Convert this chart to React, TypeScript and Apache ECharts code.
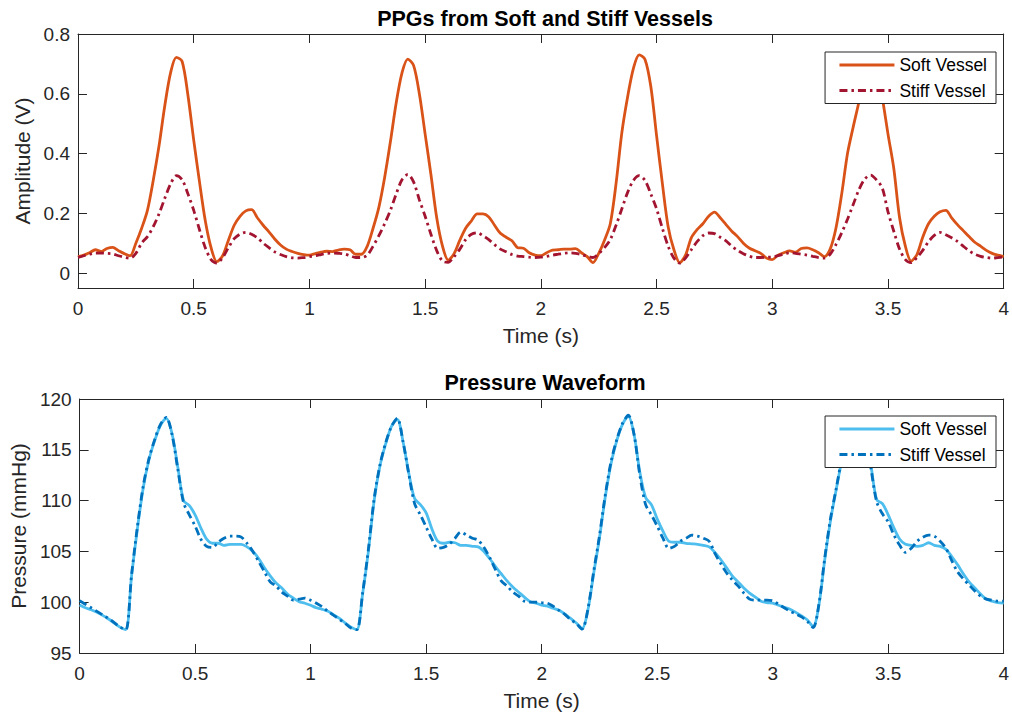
import React, { useEffect, useRef } from 'react';
import * as echarts from 'echarts';

// Sample spacing of the recorded waveforms (seconds)
const TIME_STEP = 0.025;

const xTickValues = [0, 0.5, 1, 1.5, 2, 2.5, 3, 3.5, 4];
const ppgTickValues = [0, 0.2, 0.4, 0.6, 0.8];
const pressureTickValues = [95, 100, 105, 110, 115, 120];
const legendLabels = ['Soft Vessel', 'Stiff Vessel'];

// PPG amplitude (V), soft vessel
const ppgSoft = [
  0.055, 0.060, 0.068, 0.078, 0.072, 0.082, 0.086, 0.075, 0.065, 0.058,
  0.100, 0.150, 0.210, 0.310, 0.425, 0.560, 0.670, 0.722, 0.708, 0.595,
  0.445, 0.305, 0.175, 0.085, 0.038, 0.058, 0.110, 0.160, 0.190, 0.208,
  0.212, 0.185, 0.160, 0.138, 0.114, 0.094, 0.080, 0.072, 0.066, 0.062,
  0.060, 0.065, 0.070, 0.073, 0.072, 0.077, 0.080, 0.078, 0.063, 0.063,
  0.090, 0.150, 0.220, 0.320, 0.440, 0.570, 0.670, 0.716, 0.695, 0.600,
  0.465, 0.330, 0.185, 0.090, 0.043, 0.065, 0.110, 0.150, 0.175, 0.198,
  0.198, 0.188, 0.160, 0.133, 0.120, 0.108, 0.085, 0.083, 0.068, 0.060,
  0.058, 0.068, 0.077, 0.078, 0.080, 0.080, 0.082, 0.068, 0.055, 0.035,
  0.066, 0.110, 0.165, 0.300, 0.470, 0.590, 0.685, 0.730, 0.715, 0.625,
  0.460, 0.300, 0.155, 0.078, 0.035, 0.060, 0.118, 0.145, 0.165, 0.190,
  0.204, 0.185, 0.162, 0.140, 0.122, 0.100, 0.084, 0.075, 0.066, 0.050,
  0.045, 0.060, 0.068, 0.074, 0.070, 0.082, 0.084, 0.078, 0.068, 0.055,
  0.080, 0.150, 0.265, 0.400, 0.490, 0.575, 0.670, 0.720, 0.700, 0.590,
  0.465, 0.350, 0.185, 0.090, 0.040, 0.062, 0.120, 0.165, 0.190, 0.205,
  0.210, 0.185, 0.162, 0.142, 0.122, 0.103, 0.090, 0.076, 0.066, 0.060, 0.055,
];

// PPG amplitude (V), stiff vessel
const ppgStiff = [
  0.052, 0.058, 0.063, 0.067, 0.067, 0.066, 0.064, 0.058, 0.053, 0.050,
  0.066, 0.100, 0.122, 0.155, 0.198, 0.250, 0.298, 0.326, 0.312, 0.265,
  0.210, 0.145, 0.085, 0.045, 0.033, 0.052, 0.085, 0.115, 0.130, 0.136,
  0.130, 0.118, 0.100, 0.085, 0.071, 0.062, 0.055, 0.051, 0.050, 0.052,
  0.055, 0.058, 0.062, 0.066, 0.067, 0.066, 0.064, 0.058, 0.052, 0.052,
  0.060, 0.090, 0.125, 0.165, 0.210, 0.265, 0.312, 0.330, 0.305, 0.245,
  0.190, 0.130, 0.075, 0.040, 0.036, 0.055, 0.080, 0.112, 0.130, 0.135,
  0.125, 0.112, 0.095, 0.080, 0.071, 0.062, 0.057, 0.055, 0.053, 0.052,
  0.053, 0.056, 0.060, 0.063, 0.066, 0.068, 0.066, 0.062, 0.056, 0.052,
  0.065, 0.085, 0.112, 0.160, 0.215, 0.270, 0.310, 0.326, 0.310, 0.265,
  0.215, 0.150, 0.090, 0.050, 0.033, 0.050, 0.078, 0.105, 0.125, 0.134,
  0.132, 0.120, 0.108, 0.090, 0.076, 0.065, 0.057, 0.052, 0.052, 0.053,
  0.054, 0.058, 0.064, 0.068, 0.066, 0.063, 0.060, 0.056, 0.052, 0.050,
  0.063, 0.095, 0.135, 0.180, 0.230, 0.280, 0.315, 0.328, 0.312, 0.285,
  0.205, 0.140, 0.080, 0.045, 0.035, 0.052, 0.076, 0.105, 0.126, 0.136,
  0.128, 0.118, 0.106, 0.090, 0.075, 0.063, 0.056, 0.052, 0.050, 0.052, 0.054,
];

// Pressure (mmHg), soft vessel
const pressureSoft = [
  99.72, 99.45, 99.25, 99.0, 98.7, 98.35, 97.95, 97.55, 97.3, 102.6,
  107.2, 111.2, 114.0, 115.9, 117.4, 118.1, 116.6, 113.3, 110.0, 109.5,
  108.6, 107.3, 106.2, 105.8, 105.8, 105.6, 105.7, 105.7, 105.7, 105.45,
  105.0, 104.3, 103.4, 102.6, 101.9, 101.4, 100.8, 100.4, 100.05, 99.9,
  99.7, 99.45, 99.3, 99.1, 98.75, 98.4, 97.95, 97.55, 97.3, 100.8,
  105.0, 110.0, 113.4, 115.6, 117.3, 118.0, 115.8, 112.7, 110.2, 109.6,
  108.8, 107.2, 106.0, 105.8, 105.9, 105.85, 105.6, 105.6, 105.5, 105.45,
  105.0, 104.3, 103.5, 102.8, 102.1, 101.5, 101.0, 100.5, 100.05, 99.9,
  99.72, 99.6, 99.4, 99.2, 98.85, 98.4, 97.95, 97.4, 99.2, 102.8,
  106.3, 110.3, 113.6, 115.9, 117.5, 118.3, 116.5, 112.8, 110.3, 109.6,
  108.2, 107.0, 106.0, 105.9, 105.9, 105.8, 105.75, 105.7, 105.6, 105.45,
  104.9, 104.2, 103.4, 102.6, 102.0, 101.4, 100.9, 100.5, 100.1, 99.95,
  99.9, 99.7, 99.5, 99.3, 99.0, 98.65, 98.25, 97.6, 99.7, 104.1,
  108.0, 111.1, 114.0, 116.0, 117.5, 118.1, 116.5, 113.5, 110.1, 109.7,
  108.6, 107.3, 106.2, 105.7, 105.6, 105.5, 105.6, 105.85, 105.6, 105.5,
  105.2, 104.5, 103.7, 102.8, 102.0, 101.4, 100.8, 100.3, 100.1, 99.95, 99.9,
];

// Pressure (mmHg), stiff vessel
const pressureStiff = [
  100.15, 99.8, 99.45, 99.1, 98.75, 98.4, 98.0, 97.55, 97.3, 102.7,
  107.4, 111.4, 114.1, 116.0, 117.5, 118.2, 116.5, 113.1, 109.8, 108.6,
  107.5, 106.2, 105.5, 105.4, 105.9, 106.3, 106.5, 106.5, 106.4, 105.8,
  105.0, 104.0, 103.0, 102.0, 101.6, 101.0, 100.6, 100.2, 100.3, 100.4,
  100.2, 99.9, 99.55, 99.1, 98.7, 98.3, 97.9, 97.45, 97.3, 100.9,
  105.2, 110.2, 113.5, 115.7, 117.3, 118.1, 115.8, 112.6, 109.7, 108.6,
  107.4, 106.2, 105.3, 105.4, 105.7, 106.3, 106.9, 106.6, 106.3, 106.1,
  105.4, 104.4, 103.2, 102.1, 101.6, 101.0, 100.6, 100.1, 100.0, 100.0,
  99.95, 99.9, 99.6, 99.2, 98.8, 98.3, 97.9, 97.35, 99.3, 103.0,
  106.5, 110.5, 113.8, 116.0, 117.6, 118.4, 116.5, 112.5, 109.6, 108.6,
  107.5, 106.3, 105.3, 105.5, 106.0, 106.3, 106.6, 106.5, 106.3, 106.0,
  104.8, 103.8, 102.9, 102.2, 101.6, 100.9, 100.3, 100.2, 100.2, 100.2,
  100.15, 99.8, 99.45, 99.1, 98.85, 98.55, 98.1, 97.5, 99.8, 104.3,
  108.2, 111.2, 114.2, 116.2, 117.6, 118.2, 116.5, 113.2, 109.9, 108.7,
  107.9, 106.6, 105.6, 104.9, 105.3, 106.0, 106.4, 106.6, 106.5, 106.0,
  105.3, 104.1, 103.0, 102.3, 101.7, 101.1, 100.6, 100.3, 100.2, 100.1, 100.1,
];

const FONT = '"Liberation Sans", Arial, Helvetica, sans-serif';
const AXIS_COLOR = '#262626';
const DASH_DOT = [8, 4, 2.5, 4];
const LINE_WIDTH = 2.8;
const PRESSURE_SUFFIX = ' (pressure)';

function toPairs(values: number[]) {
  return values.map((v, i) => [Number((i * TIME_STEP).toFixed(3)), v]);
}

function makeXAxes(gridIndex: number) {
  const base: any = {
    type: 'value',
    gridIndex,
    min: 0,
    max: 4,
    interval: 0.5,
    splitLine: { show: false },
    axisLine: { show: true, onZero: false, lineStyle: { color: AXIS_COLOR, width: 1 } },
    axisTick: { show: true, inside: true, length: 9, lineStyle: { color: AXIS_COLOR, width: 1 } },
  };
  return [
    {
      ...base,
      position: 'bottom',
      axisLabel: {
        show: true,
        margin: 11,
        fontSize: 19,
        fontFamily: FONT,
        color: AXIS_COLOR,
        customValues: xTickValues,
        formatter: (v: number) => String(v),
      },
      name: 'Time (s)',
      nameLocation: 'middle',
      nameGap: 37,
      nameTextStyle: { fontSize: 21, fontFamily: FONT, color: AXIS_COLOR },
    },
    { ...base, position: 'top', axisLabel: { show: false } },
  ];
}

function makeYAxes(gridIndex: number, min: number, max: number, ticks: number[], name: string, nameGap: number) {
  const base: any = {
    type: 'value',
    gridIndex,
    min,
    max,
    splitLine: { show: false },
    axisLine: { show: true, onZero: false, lineStyle: { color: AXIS_COLOR, width: 1 } },
    axisTick: { show: true, inside: true, length: 9, customValues: ticks, lineStyle: { color: AXIS_COLOR, width: 1 } },
  };
  return [
    {
      ...base,
      position: 'left',
      axisLabel: {
        show: true,
        margin: 8,
        fontSize: 19,
        fontFamily: FONT,
        color: AXIS_COLOR,
        customValues: ticks,
        formatter: (v: number) => (ticks.some((t) => Math.abs(t - v) < 1e-9) ? String(Number(v.toFixed(2))) : ''),
      },
      name,
      nameLocation: 'middle',
      nameGap,
      nameRotate: 90,
      nameTextStyle: { fontSize: 21, fontFamily: FONT, color: AXIS_COLOR },
    },
    { ...base, position: 'right', axisLabel: { show: false } },
  ];
}

function lineSeries(name: string, data: number[], axisIndex: number, color: string, dashed: boolean, z: number) {
  return {
    name,
    type: 'line',
    xAxisIndex: axisIndex,
    yAxisIndex: axisIndex,
    data: toPairs(data),
    showSymbol: false,
    symbol: 'none',
    smooth: 0.3,
    z,
    itemStyle: { color },
    lineStyle: { color, width: LINE_WIDTH, type: dashed ? DASH_DOT : 'solid' },
  };
}

const legendBase: any = {
  orient: 'vertical',
  right: 16,
  itemWidth: 55,
  itemHeight: 14,
  itemGap: 7.5,
  padding: [4, 9, 4, 13],
  borderColor: AXIS_COLOR,
  borderWidth: 1,
  backgroundColor: '#ffffff',
  selectedMode: false,
  itemStyle: { opacity: 0, borderWidth: 0 },
  lineStyle: { width: LINE_WIDTH },
  textStyle: { fontSize: 17.5, fontFamily: FONT, color: '#000000' },
};

export default function App() {
  const ref = useRef<HTMLDivElement>(null);

  useEffect(() => {
    if (!ref.current) return;
    const chart = echarts.init(ref.current, undefined, { renderer: 'svg' });
    const option: any = {
      animation: false,
      backgroundColor: '#ffffff',
      title: [
        {
          text: 'PPGs from Soft and Stiff Vessels',
          left: 545,
          top: 8,
          padding: 0,
          textAlign: 'center',
          textStyle: { fontSize: 21.5, fontWeight: 'bold', fontFamily: FONT, color: '#000000' },
        },
        {
          text: 'Pressure Waveform',
          left: 545,
          top: 372,
          padding: 0,
          textAlign: 'center',
          textStyle: { fontSize: 21.5, fontWeight: 'bold', fontFamily: FONT, color: '#000000' },
        },
      ],
      grid: [
        { left: 78, right: 1, top: 34, height: 254, containLabel: false },
        { left: 78, right: 1, top: 399, height: 254, containLabel: false },
      ],
      xAxis: [...makeXAxes(0), ...makeXAxes(1)],
      yAxis: [
        ...makeYAxes(0, -0.05, 0.8, ppgTickValues, 'Amplitude (V)', 42),
        ...makeYAxes(1, 95, 120, pressureTickValues, 'Pressure (mmHg)', 45),
      ],
      legend: [
        { ...legendBase, top: 52, data: [legendLabels[0], legendLabels[1]] },
        {
          ...legendBase,
          top: 416,
          data: [legendLabels[0] + PRESSURE_SUFFIX, legendLabels[1] + PRESSURE_SUFFIX],
          formatter: (name: string) => name.replace(PRESSURE_SUFFIX, ''),
        },
      ],
      series: [
        lineSeries(legendLabels[0], ppgSoft, 0, '#D95319', false, 2),
        lineSeries(legendLabels[1], ppgStiff, 0, '#A2142F', true, 3),
        lineSeries(legendLabels[0] + PRESSURE_SUFFIX, pressureSoft, 2, '#4DBEEE', false, 2),
        lineSeries(legendLabels[1] + PRESSURE_SUFFIX, pressureStiff, 2, '#0072BD', true, 3),
      ],
    };
    chart.setOption(option);
    return () => chart.dispose();
  }, []);

  return (
    <div
      ref={ref}
      style={{ position: 'fixed', left: 0, top: 0, width: 1012, height: 714, background: '#ffffff' }}
    />
  );
}
